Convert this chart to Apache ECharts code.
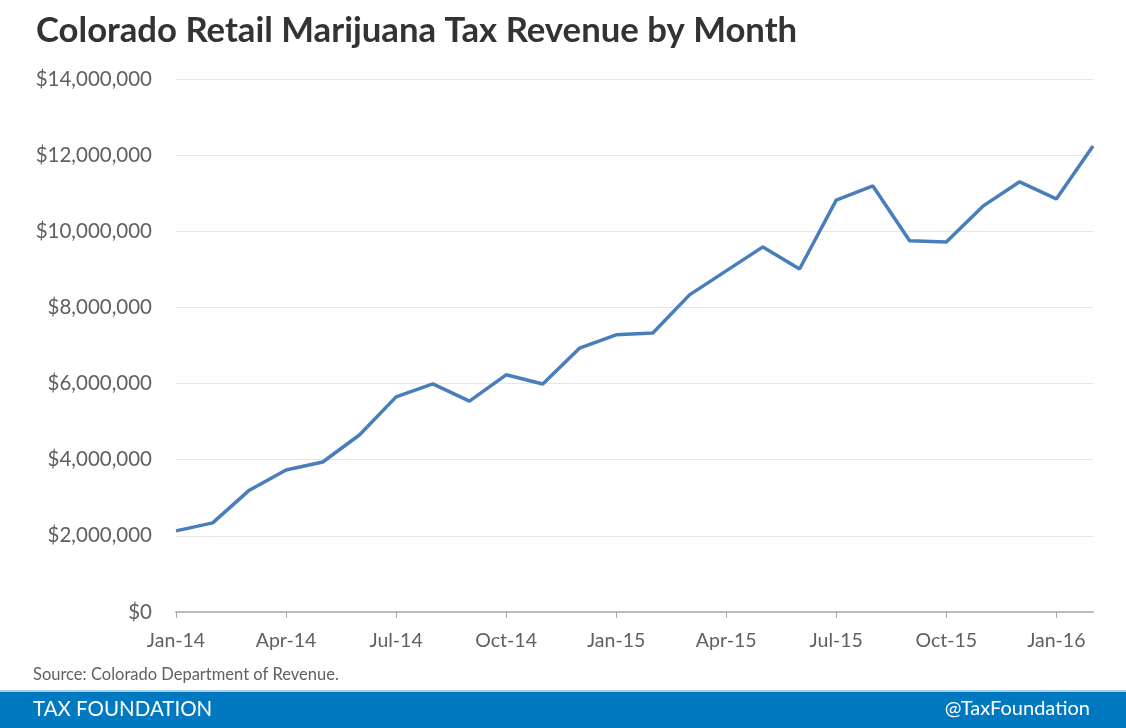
<!DOCTYPE html>
<html>
<head>
<meta charset="utf-8">
<script src="https://cdn.jsdelivr.net/npm/echarts@6/dist/echarts.min.js"></script>
<style>
html,body{margin:0;padding:0;background:#fff;}
#c{width:1126px;height:728px;}
</style>
</head>
<body>
<div id="c"></div>
<script>
const months = ["Jan-14","Feb-14","Mar-14","Apr-14","May-14","Jun-14","Jul-14","Aug-14","Sep-14","Oct-14","Nov-14","Dec-14",
"Jan-15","Feb-15","Mar-15","Apr-15","May-15","Jun-15","Jul-15","Aug-15","Sep-15","Oct-15","Nov-15","Dec-15",
"Jan-16","Feb-16"];
const revenue = [2130000,2340000,3200000,3730000,3940000,4650000,5650000,5990000,5540000,6230000,5990000,6930000,
7280000,7330000,8330000,8960000,9590000,9010000,10820000,11190000,9750000,9720000,10660000,11300000,
10850000,12240000];
const titleText = "Colorado Retail Marijuana Tax Revenue by Month";
const sourceText = "Source: Colorado Department of Revenue.";
const brandLeft = "TAX FOUNDATION";
const brandRight = "@TaxFoundation";

const chart = echarts.init(document.getElementById('c'), null, {renderer:'canvas'});
const fmt = v => '$' + v.toLocaleString('en-US');
chart.setOption({
  animation:false,
  backgroundColor:'#fff',
  textStyle:{fontFamily:'Lato'},
  title:{
    text:titleText, left:31, top:8,
    textStyle:{fontFamily:'Lato', fontWeight:'bold', fontSize:34.7, color:'#333'}
  },
  grid:{left:176, right:33, top:79, bottom:116, containLabel:false},
  xAxis:{
    type:'category', data:months, boundaryGap:false,
    axisLine:{lineStyle:{color:'#bbbbbb', width:2}},
    axisTick:{interval:2, length:6, lineStyle:{color:'#aaaaaa', width:1}},
    axisLabel:{interval:2, color:'#606060', fontSize:19.5, fontFamily:'Lato', margin:19}
  },
  yAxis:{
    type:'value', min:0, max:14000000, interval:2000000,
    axisLine:{show:false}, axisTick:{show:false},
    splitLine:{lineStyle:{color:'#e6e6e6', width:1}},
    axisLabel:{formatter:fmt, color:'#606060', fontSize:20.5, fontFamily:'Lato', margin:24}
  },
  series:[{
    type:'line', data:revenue, symbol:'none',
    lineStyle:{color:'#4a7ebb', width:3.5}
  }],
  graphic:[
    {type:'text', left:33, top:666, style:{text:sourceText, fill:'#606060', fontSize:16.5, fontFamily:'Lato'}},
    {type:'rect', left:0, top:690, shape:{width:1126, height:2}, style:{fill:'#a8cde8'}},
    {type:'rect', left:0, top:692, shape:{width:1126, height:36}, style:{fill:'#0079c1'}},
    {type:'text', left:33, top:699, style:{text:brandLeft, fill:'#fff', fontSize:20.5, fontFamily:'Lato'}},
    {type:'text', right:36, top:699, style:{text:brandRight, fill:'#fff', fontSize:20, fontFamily:'Lato'}}
  ]
});
</script>
</body>
</html>
